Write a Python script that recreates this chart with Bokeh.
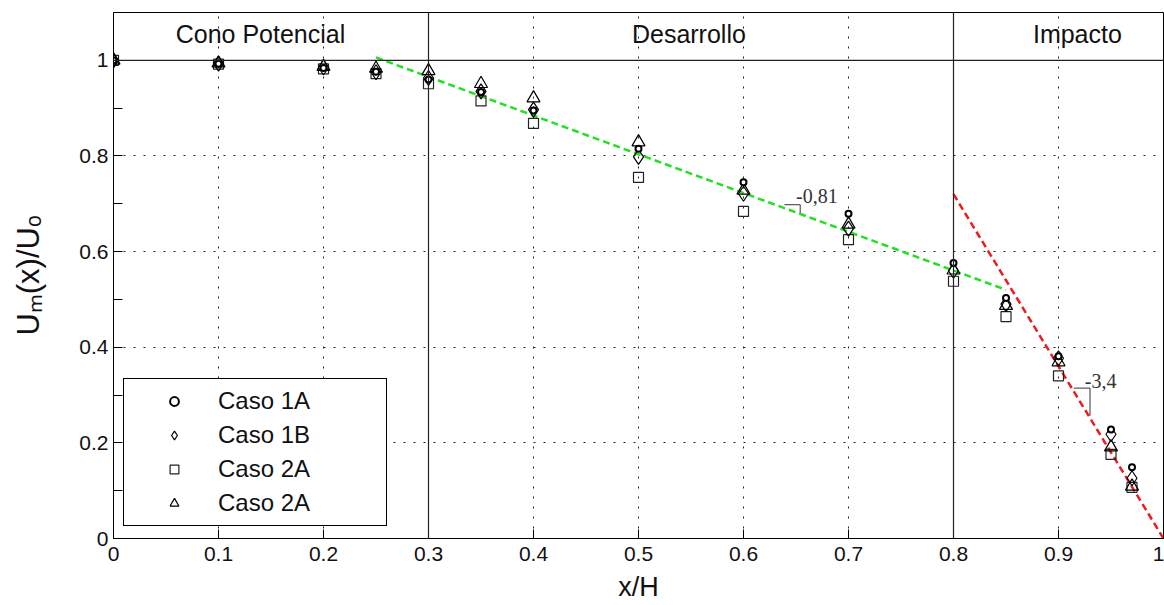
from bokeh.plotting import figure
from bokeh.models import (ColumnDataSource, FixedTicker, Legend, LegendItem, Span)
from bokeh.embed import file_html
from bokeh.resources import INLINE
from bokeh.core.properties import value

# ---------------- data ----------------
x_pos = [0.0, 0.1, 0.2, 0.25, 0.3, 0.35, 0.4, 0.5, 0.6, 0.7, 0.8, 0.85, 0.9, 0.95, 0.97]
caso_1a = [1.0, 0.993, 0.984, 0.976, 0.960, 0.934, 0.895, 0.815, 0.745, 0.679, 0.576, 0.503, 0.381, 0.228, 0.149]
caso_1b = [1.0, 0.993, 0.985, 0.975, 0.963, 0.935, 0.897, 0.798, 0.721, 0.648, 0.560, 0.490, 0.377, 0.218, 0.126]
caso_2a = [1.0, 0.992, 0.982, 0.972, 0.951, 0.915, 0.868, 0.755, 0.684, 0.625, 0.538, 0.464, 0.340, 0.176, 0.107]
caso_2a_b = [1.0, 0.994, 0.987, 0.983, 0.978, 0.951, 0.921, 0.829, 0.728, 0.657, 0.561, 0.487, 0.369, 0.191, 0.109]
series_names = ["Caso 1A", "Caso 1B", "Caso 2A", "Caso 2A"]

fit_dev_x = [0.25, 0.85]
fit_dev_y = [1.006, 0.520]
fit_imp_x = [0.80, 1.00]
fit_imp_y = [0.720, 0.0]

slope_dev = "-0,81"
slope_imp = "-3,4"
dev_step_x = [0.639, 0.654, 0.654]
dev_step_y = [0.698, 0.698, 0.681]
imp_step_x = [0.9146, 0.930, 0.930]
imp_step_y = [0.3145, 0.3145, 0.257]
dev_text_pos = (0.650, 0.716)
imp_text_pos = (0.925, 0.329)

region_names = ["Cono Potencial", "Desarrollo", "Impacto"]
region_x = [0.14, 0.548, 0.918]
region_y = [1.056, 1.056, 1.056]
region_bounds = [0.3, 0.8]

x_ticks = [0, 0.1, 0.2, 0.3, 0.4, 0.5, 0.6, 0.7, 0.8, 0.9, 1.0]
x_tick_labels = ["0", "0.1", "0.2", "0.3", "0.4", "0.5", "0.6", "0.7", "0.8", "0.9", "1"]
y_ticks = [0, 0.2, 0.4, 0.6, 0.8, 1.0]
y_tick_labels = ["0", "0.2", "0.4", "0.6", "0.8", "1"]
y_minor = [0.1, 0.3, 0.5, 0.7, 0.9]

FONT = "Liberation Sans"

p = figure(frame_width=1050, frame_height=526, x_range=(0, 1), y_range=(0, 1.1),
           output_backend="svg", toolbar_location=None,
           min_border_left=113, min_border_top=12, min_border_right=1, min_border_bottom=67)
p.background_fill_color = "white"
p.border_fill_color = "white"
p.outline_line_color = "black"
p.outline_line_width = 1

# axes
p.xaxis.ticker = FixedTicker(ticks=x_ticks)
p.xaxis.major_label_overrides = {t: l for t, l in zip(x_ticks, x_tick_labels)}
p.yaxis.ticker = FixedTicker(ticks=y_ticks, minor_ticks=y_minor)
p.yaxis.major_label_overrides = {t: l for t, l in zip(y_ticks, y_tick_labels)}
for ax in (p.xaxis, p.yaxis):
    ax.major_tick_in = 9
    ax.major_tick_out = 0
    ax.minor_tick_in = 9
    ax.minor_tick_out = 0
    ax.axis_line_color = "black"
    ax.major_tick_line_color = "black"
    ax.minor_tick_line_color = "black"
    ax.major_label_text_font = FONT
    ax.major_label_text_font_size = "21px"
    ax.major_label_text_color = "#111111"
    ax.axis_label_text_font = FONT
    ax.axis_label_text_font_style = "normal"
    ax.axis_label_text_color = "#111111"
p.xaxis.minor_tick_in = 0
p.xaxis.major_label_standoff = 8
p.yaxis.major_label_standoff = 5
p.xaxis.axis_label = "x/H"
p.xaxis.axis_label_text_font_size = "27px"
p.xaxis.axis_label_standoff = 8
p.yaxis.axis_label = "Uₘ(x)/Uₒ"
p.yaxis.axis_label_text_font_size = "31px"
p.yaxis.axis_label_standoff = 30

# grid
p.xgrid.ticker = FixedTicker(ticks=x_ticks)
p.ygrid.ticker = FixedTicker(ticks=y_ticks)
for g in (p.xgrid, p.ygrid):
    g.grid_line_color = "#222222"
    g.grid_line_dash = "2 8"
    g.grid_line_width = 1

# region separators
for b in region_bounds:
    p.add_layout(Span(location=b, dimension="height", line_color="#222222", line_width=1.2))
p.add_layout(Span(location=1.0, dimension="width", line_color="#222222", line_width=1.2))

# region labels
p.text(x=region_x, y=region_y, text=region_names, text_font=value(FONT), text_font_size="25px",
       text_align="center", text_baseline="middle", text_color="#111111")

# fit lines
p.line(fit_dev_x, fit_dev_y, line_color="#22e022", line_width=2.5, line_dash="7 4")
p.line(fit_imp_x, fit_imp_y, line_color="#ee1c1c", line_width=2.5, line_dash="7 4")

# slope steps
p.line(dev_step_x, dev_step_y, line_color="#333333", line_width=1)
p.line(imp_step_x, imp_step_y, line_color="#333333", line_width=1)
p.text(x=[dev_text_pos[0], imp_text_pos[0]], y=[dev_text_pos[1], imp_text_pos[1]],
       text=[slope_dev, slope_imp], text_font=value("Liberation Serif"), text_font_size="20px",
       text_align="left", text_baseline="middle", text_color="#333333")

# data
src = ColumnDataSource(dict(x=x_pos, a=caso_1a, b=caso_1b, c=caso_2a, d=caso_2a_b))
r_c = p.scatter("x", "c", source=src, marker="square", size=10, fill_color=None,
                line_color="#222222", line_width=1.2)
r_d = p.scatter("x", "d", source=src, marker="triangle", size=13, fill_color=None,
                line_color="black", line_width=1.2)
r_b = p.scatter("x", "b", source=src, marker="diamond", size=15, fill_color=None,
                line_color="black", line_width=1.2)
r_a = p.scatter("x", "a", source=src, marker="circle", size=6, fill_color="white",
                line_color="black", line_width=2)

legend = Legend(items=[LegendItem(label=series_names[0], renderers=[r_a]),
                       LegendItem(label=series_names[1], renderers=[r_b]),
                       LegendItem(label=series_names[2], renderers=[r_c]),
                       LegendItem(label=series_names[3], renderers=[r_d])],
                location=(10, 12), orientation="vertical")
legend.border_line_color = "black"
legend.border_line_alpha = 1
legend.border_line_width = 1.2
legend.background_fill_color = "white"
legend.background_fill_alpha = 1
legend.padding = 8
legend.margin = 0
legend.spacing = 6
legend.glyph_width = 84
legend.glyph_height = 22
legend.label_height = 28
legend.label_width = 160
legend.label_standoff = 2
legend.label_text_font = FONT
legend.label_text_font_size = "24px"
legend.label_text_color = "#111111"
p.add_layout(legend, "center")

open("out.html", "w").write(file_html(p, INLINE))
